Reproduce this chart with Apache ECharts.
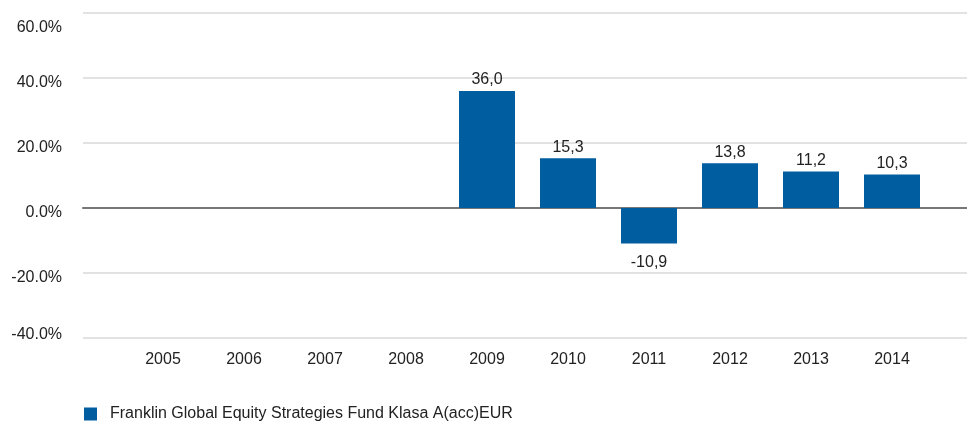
<!DOCTYPE html>
<html>
<head>
<meta charset="utf-8">
<script src="https://cdn.jsdelivr.net/npm/echarts@6/dist/echarts.min.js"></script>
<style>
  html, body { margin: 0; padding: 0; background: #fff; }
  #chart { width: 967px; height: 421px; }
</style>
</head>
<body>
<div id="chart"></div>
<script>
// dane wykresu
var years = ['2005', '2006', '2007', '2008', '2009', '2010', '2011', '2012', '2013', '2014'];
var returns = [null, null, null, null, 36.0, 15.3, -10.9, 13.8, 11.2, 10.3];
var yTicks = [-40, -20, 0, 20, 40, 60];
var seriesName = 'Franklin Global Equity Strategies Fund Klasa A(acc)EUR';

var FONT = '"Liberation Sans Narrow", "Arial Narrow", "Liberation Sans", Arial, sans-serif';
var FS = 16;
var BLUE = '#005da0';

const chart = echarts.init(document.getElementById('chart'), null, { renderer: 'canvas' });

// ujemne wartości - etykieta pod słupkiem
var barData = returns.map(function (v) {
  if (v === null) return '-';
  if (v < 0) return { value: v, label: { position: 'bottom', distance: 11 } };
  return { value: v, label: { position: 'top', distance: 3 } };
});

var option = {
  animation: false,
  textStyle: { fontFamily: FONT },
  legend: {
    left: 84,
    top: 406,
    padding: 0,
    icon: 'rect',
    itemWidth: 13,
    itemHeight: 13,
    data: [seriesName],
    textStyle: { fontFamily: FONT, fontSize: FS, color: '#222', padding: [0, 0, 0, 8] }
  },
  grid: [
    { left: 83, right: 0, top: 13, bottom: 83 },
    { left: 122.5, right: 34.5, top: 13, bottom: 83 }
  ],
  xAxis: [
    {
      gridIndex: 0,
      type: 'category',
      data: [''],
      axisLine: { show: true, onZero: true, lineStyle: { color: '#777', width: 2 } },
      axisTick: { show: false },
      axisLabel: { show: false },
      splitLine: { show: false }
    },
    {
      gridIndex: 1,
      type: 'category',
      data: years,
      axisLine: { show: false },
      axisTick: { show: false },
      axisLabel: { margin: 14, fontFamily: FONT, fontSize: FS, color: '#222' },
      splitLine: { show: false }
    }
  ],
  yAxis: [
    {
      gridIndex: 0,
      type: 'value',
      min: yTicks[0],
      max: yTicks[yTicks.length - 1],
      interval: 20,
      axisLine: { show: false },
      axisTick: { show: false },
      splitLine: { lineStyle: { color: '#e2e2e2', width: 2 } },
      axisLabel: {
        margin: 21,
        fontFamily: FONT,
        fontSize: FS,
        color: '#222',
        formatter: function (v) {
          var txt = v.toFixed(1) + '%';
          if (v === 60) return '{top|' + txt + '}';
          if (v === -40) return '{bot|' + txt + '}';
          return '{mid|' + txt + '}';
        },
        rich: {
          top: { fontFamily: FONT, fontSize: FS, color: '#222', padding: [30, 0, 0, 0] },
          mid: { fontFamily: FONT, fontSize: FS, color: '#222', padding: [9, 0, 0, 0] },
          bot: { fontFamily: FONT, fontSize: FS, color: '#222', padding: [0, 0, 6, 0] }
        }
      }
    },
    {
      gridIndex: 1,
      type: 'value',
      min: yTicks[0],
      max: yTicks[yTicks.length - 1],
      interval: 20,
      show: false,
      splitLine: { show: false }
    }
  ],
  series: [
    {
      name: seriesName,
      type: 'bar',
      xAxisIndex: 1,
      yAxisIndex: 1,
      barWidth: 56,
      itemStyle: { color: BLUE },
      data: barData,
      label: {
        show: true,
        fontFamily: FONT,
        fontSize: FS,
        color: '#222',
        formatter: function (p) {
          return p.value.toFixed(1).replace('.', ',');
        }
      }
    }
  ]
};

chart.setOption(option);
</script>
</body>
</html>
